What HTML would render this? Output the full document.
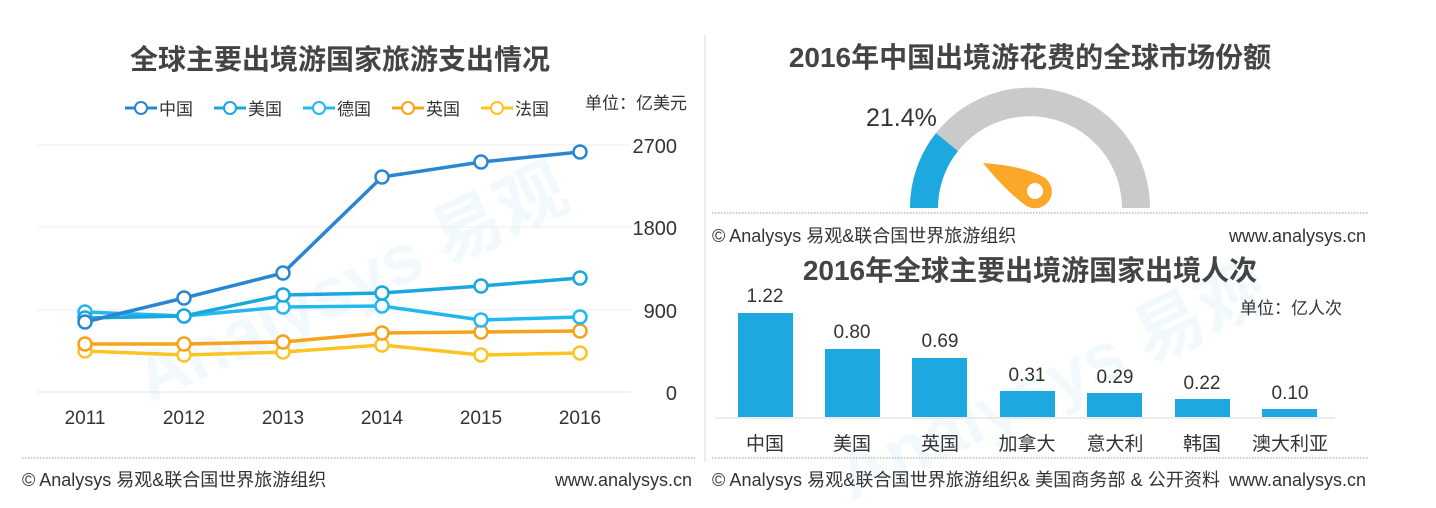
<!DOCTYPE html>
<html><head><meta charset="utf-8"><style>
html,body{margin:0;padding:0;background:#fff;}
svg{display:block;font-family:"Liberation Sans","Noto Sans CJK SC",sans-serif;}
</style></head><body>
<svg width="1436" height="508" viewBox="0 0 1436 508" xmlns="http://www.w3.org/2000/svg">
<rect width="1436" height="508" fill="#fff"/>
<g opacity="0.06" fill="#1a9ad6" font-weight="bold">
<text x="120" y="330" font-size="70" transform="rotate(-25 300 300)">Analysys 易观</text>
<text x="780" y="420" font-size="70" transform="rotate(-25 1000 300)">Analysys 易观</text>
</g>
<line x1="705" y1="35" x2="705" y2="462" stroke="#e6e6e6" stroke-width="1.5"/>
<!-- LEFT CHART -->
<text x="340" y="69" font-size="28" font-weight="bold" fill="#444" text-anchor="middle">全球主要出境游国家旅游支出情况</text>
<g font-size="17" fill="#333">
<g><line x1="125" y1="108" x2="157" y2="108" stroke="#2b86d1" stroke-width="3"/><circle cx="141" cy="108" r="6" fill="#fff" stroke="#2b86d1" stroke-width="2"/><text x="159" y="115">中国</text></g>
<g><line x1="214" y1="108" x2="246" y2="108" stroke="#1aa6df" stroke-width="3"/><circle cx="230" cy="108" r="6" fill="#fff" stroke="#1aa6df" stroke-width="2"/><text x="248" y="115">美国</text></g>
<g><line x1="303" y1="108" x2="335" y2="108" stroke="#22b8f0" stroke-width="3"/><circle cx="319" cy="108" r="6" fill="#fff" stroke="#22b8f0" stroke-width="2"/><text x="337" y="115">德国</text></g>
<g><line x1="392" y1="108" x2="424" y2="108" stroke="#f7a21b" stroke-width="3"/><circle cx="408" cy="108" r="6" fill="#fff" stroke="#f7a21b" stroke-width="2"/><text x="426" y="115">英国</text></g>
<g><line x1="481" y1="108" x2="513" y2="108" stroke="#fcc325" stroke-width="3"/><circle cx="497" cy="108" r="6" fill="#fff" stroke="#fcc325" stroke-width="2"/><text x="515" y="115">法国</text></g>
<text x="585" y="109" font-size="17">单位：亿美元</text>
</g>
<g stroke="#eee" stroke-width="1">
<line x1="37" y1="145" x2="630" y2="145"/><line x1="37" y1="227" x2="630" y2="227"/>
<line x1="37" y1="310" x2="630" y2="310"/><line x1="37" y1="392" x2="630" y2="392" stroke="#e4e4e4"/>
</g>
<g font-size="20" fill="#333" text-anchor="end">
<text x="677" y="153">2700</text><text x="677" y="235">1800</text><text x="677" y="318">900</text><text x="677" y="400">0</text>
</g>
<g font-size="19" fill="#333" text-anchor="middle">
<text x="85" y="424">2011</text><text x="184" y="424">2012</text><text x="283" y="424">2013</text><text x="382" y="424">2014</text><text x="481" y="424">2015</text><text x="580" y="424">2016</text>
</g>
<g fill="#fff" stroke-width="2.5">
<polyline points="85,351 184,355 283,352 382,345 481,355 580,353" fill="none" stroke="#fcc325" stroke-width="3.5"/>
<g stroke="#fcc325"><circle cx="85" cy="351" r="6.5"/><circle cx="184" cy="355" r="6.5"/><circle cx="283" cy="352" r="6.5"/><circle cx="382" cy="345" r="6.5"/><circle cx="481" cy="355" r="6.5"/><circle cx="580" cy="353" r="6.5"/></g>
<polyline points="85,344 184,344 283,342 382,333 481,332 580,331" fill="none" stroke="#f7a21b" stroke-width="3.5"/>
<g stroke="#f7a21b"><circle cx="85" cy="344" r="6.5"/><circle cx="184" cy="344" r="6.5"/><circle cx="283" cy="342" r="6.5"/><circle cx="382" cy="333" r="6.5"/><circle cx="481" cy="332" r="6.5"/><circle cx="580" cy="331" r="6.5"/></g>
<polyline points="85,312 184,316 283,307 382,306 481,320 580,317" fill="none" stroke="#22b8f0" stroke-width="3.5"/>
<g stroke="#22b8f0"><circle cx="85" cy="312" r="6.5"/><circle cx="184" cy="316" r="6.5"/><circle cx="283" cy="307" r="6.5"/><circle cx="382" cy="306" r="6.5"/><circle cx="481" cy="320" r="6.5"/><circle cx="580" cy="317" r="6.5"/></g>
<polyline points="85,318 184,316 283,295 382,293 481,286 580,278" fill="none" stroke="#1aa6df" stroke-width="3.5"/>
<g stroke="#1aa6df"><circle cx="85" cy="318" r="6.5"/><circle cx="184" cy="316" r="6.5"/><circle cx="283" cy="295" r="6.5"/><circle cx="382" cy="293" r="6.5"/><circle cx="481" cy="286" r="6.5"/><circle cx="580" cy="278" r="6.5"/></g>
<polyline points="85,322 184,298 283,273 382,177 481,162 580,152" fill="none" stroke="#2b86d1" stroke-width="3.5"/>
<g stroke="#2b86d1"><circle cx="85" cy="322" r="6.5"/><circle cx="184" cy="298" r="6.5"/><circle cx="283" cy="273" r="6.5"/><circle cx="382" cy="177" r="6.5"/><circle cx="481" cy="162" r="6.5"/><circle cx="580" cy="152" r="6.5"/></g>
</g>
<line x1="22" y1="458" x2="695" y2="458" stroke="#bbb" stroke-width="1.5" stroke-dasharray="1.5,1.5"/>
<text x="22" y="486" font-size="18" fill="#333">© Analysys 易观&amp;联合国世界旅游组织</text>
<text x="692" y="486" font-size="18" fill="#333" text-anchor="end">www.analysys.cn</text>
<!-- RIGHT TOP GAUGE -->
<text x="1030" y="67" font-size="28" font-weight="bold" fill="#444" text-anchor="middle">2016年中国出境游花费的全球市场份额</text>
<path d="M910,208 A120,120 0 0 1 936,133 L958,151 A92,92 0 0 0 938,208 Z" fill="#1ea8e0"/>
<path d="M936,133 A120,120 0 0 1 1150,208 L1122,208 A92,92 0 0 0 958,151 Z" fill="#cacaca"/>
<path d="M983,163 Q1025,166 1045,178 A16,16 0 0 1 1025,205 Q1005,190 983,163 Z" fill="#fba72a"/>
<circle cx="1035" cy="191" r="8" fill="#fff"/>
<text x="866" y="126" font-size="25" fill="#333">21.4%</text>
<line x1="712" y1="213" x2="1368" y2="213" stroke="#bbb" stroke-width="1.5" stroke-dasharray="1.5,1.5"/>
<text x="712" y="242" font-size="18" fill="#333">© Analysys 易观&amp;联合国世界旅游组织</text>
<text x="1366" y="242" font-size="18" fill="#333" text-anchor="end">www.analysys.cn</text>
<!-- RIGHT BOTTOM BARS -->
<text x="1030" y="280" font-size="28" font-weight="bold" fill="#444" text-anchor="middle">2016年全球主要出境游国家出境人次</text>
<text x="1240" y="314" font-size="17" fill="#333">单位：亿人次</text>
<g fill="#1ea8e0">
<rect x="738" y="313" width="55" height="104"/><rect x="825" y="349" width="55" height="68"/><rect x="912" y="358" width="55" height="59"/>
<rect x="1000" y="391" width="55" height="26"/><rect x="1087" y="393" width="55" height="24"/><rect x="1175" y="399" width="55" height="18"/><rect x="1262" y="409" width="55" height="8"/>
</g>
<line x1="715" y1="418" x2="1335" y2="418" stroke="#e6e6e6" stroke-width="1.5"/>
<g font-size="19" fill="#333" text-anchor="middle">
<text x="765" y="302">1.22</text><text x="852" y="338">0.80</text><text x="940" y="347">0.69</text>
<text x="1027" y="381">0.31</text><text x="1115" y="383">0.29</text><text x="1202" y="389">0.22</text><text x="1290" y="399">0.10</text>
</g>
<g font-size="19" fill="#333" text-anchor="middle">
<text x="765" y="450">中国</text><text x="852" y="450">美国</text><text x="940" y="450">英国</text><text x="1027" y="450">加拿大</text><text x="1115" y="450">意大利</text><text x="1202" y="450">韩国</text><text x="1290" y="450">澳大利亚</text>
</g>
<line x1="712" y1="458" x2="1368" y2="458" stroke="#bbb" stroke-width="1.5" stroke-dasharray="1.5,1.5"/>
<text x="712" y="486" font-size="18" fill="#333" textLength="508">© Analysys 易观&amp;联合国世界旅游组织&amp; 美国商务部 &amp; 公开资料</text>
<text x="1366" y="486" font-size="18" fill="#333" text-anchor="end">www.analysys.cn</text>
</svg>
</body></html>
